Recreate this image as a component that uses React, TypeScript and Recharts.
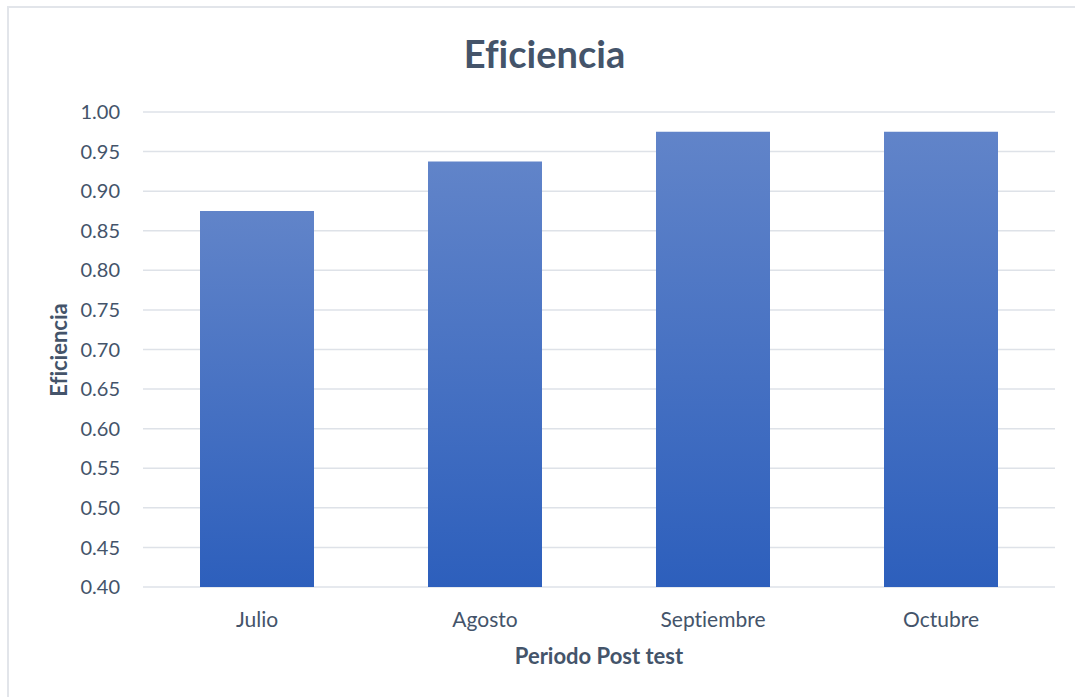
import { Bar, BarChart, CartesianGrid, XAxis, YAxis } from "recharts";

const months = ["Julio", "Agosto", "Septiembre", "Octubre"];
const efficiency = [0.875, 0.9375, 0.975, 0.975];
const yTicks = [0.4, 0.45, 0.5, 0.55, 0.6, 0.65, 0.7, 0.75, 0.8, 0.85, 0.9, 0.95, 1.0];

const data = months.map((month, i) => ({ month, value: efficiency[i] }));

const TEXT = "#44546A";
const GRID = "#DEE2E8";
const FONT = "Lato, 'Open Sans', sans-serif";

export default function App() {
  return (
    <div
      style={{
        position: "fixed",
        left: 0,
        top: 0,
        width: 1075,
        height: 697,
        overflow: "hidden",
        background: "#fff",
        fontFamily: FONT,
        fontVariantLigatures: "none",
      }}
    >
      {/* chart area frame, runs past the right and bottom edges */}
      <div
        style={{
          position: "absolute",
          left: 7,
          top: 6,
          width: 1100,
          height: 730,
          border: "2px solid #E2E5EA",
          boxSizing: "border-box",
        }}
      />
      <div
        style={{
          position: "absolute",
          left: 0,
          top: 34,
          width: 1089,
          textAlign: "center",
          fontSize: 38,
          lineHeight: "38px",
          fontWeight: 700,
          color: TEXT,
        }}
      >
        Eficiencia
      </div>
      <div
        style={{
          position: "absolute",
          left: 0,
          top: 0,
        }}
      >
        <BarChart
          width={1075}
          height={697}
          data={data}
          margin={{ top: 112, right: 20, bottom: 70, left: 0 }}
          barCategoryGap="25%"
        >
          <defs>
            <linearGradient id="barFill" x1="0" y1="0" x2="0" y2="1">
              <stop offset="0%" stopColor="#6184C9" />
              <stop offset="100%" stopColor="#2D5FBC" />
            </linearGradient>
          </defs>
          <CartesianGrid vertical={false} stroke={GRID} strokeWidth={1.5} />
          <XAxis
            dataKey="month"
            axisLine={false}
            tickLine={false}
            tickSize={0}
            tickMargin={25}
            height={40}
            tick={{ fill: TEXT, fontSize: 21, fontFamily: FONT }}
          />
          <YAxis
            domain={[0.4, 1.0]}
            ticks={yTicks}
            allowDataOverflow
            axisLine={false}
            tickLine={false}
            tickSize={0}
            tickMargin={23}
            width={143}
            tickFormatter={(v: number) => v.toFixed(2)}
            tick={{ fill: TEXT, fontSize: 20, fontFamily: FONT }}
          />
          <Bar dataKey="value" fill="url(#barFill)" isAnimationActive={false} />
        </BarChart>
      </div>
      <div
        style={{
          position: "absolute",
          left: 449,
          top: 645,
          width: 300,
          textAlign: "center",
          fontSize: 22,
          lineHeight: "22px",
          fontWeight: 700,
          color: TEXT,
        }}
      >
        Periodo Post test
      </div>
      <div
        style={{
          position: "absolute",
          left: 59 - 100,
          top: 350 - 12,
          width: 200,
          height: 24,
          lineHeight: "24px",
          textAlign: "center",
          fontSize: 22,
          fontWeight: 700,
          color: TEXT,
          transform: "rotate(-90deg)",
        }}
      >
        Eficiencia
      </div>
    </div>
  );
}
